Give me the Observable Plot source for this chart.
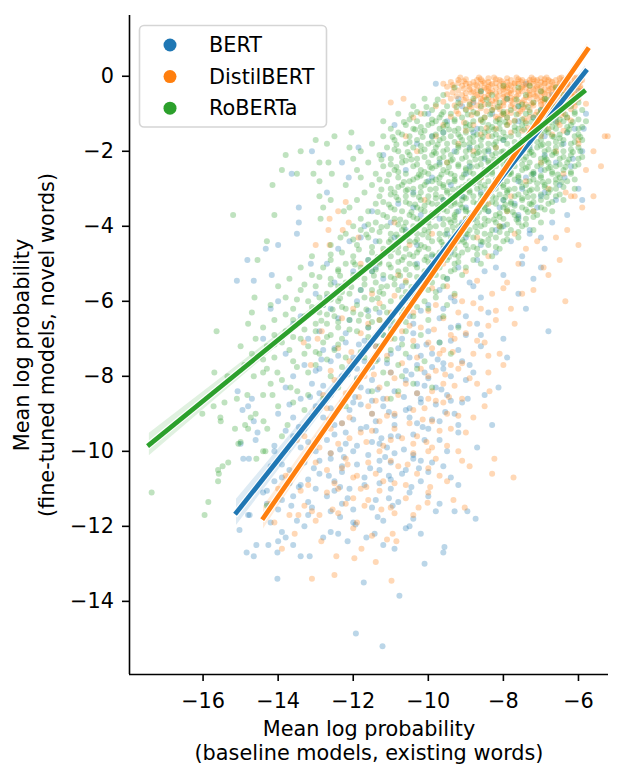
<!DOCTYPE html>
<html>
<head>
<meta charset="utf-8">
<script src="https://cdn.jsdelivr.net/npm/d3@7"></script>
<script src="https://cdn.jsdelivr.net/npm/@observablehq/plot@0.6"></script>
<style>
  html, body { margin: 0; padding: 0; background: #fff; }
  #chart { width: 624px; height: 780px; }
</style>
</head>
<body>
<div id="chart"></div>
<script>
// ---------- data ----------
const series = ["BERT", "DistilBERT", "RoBERTa"];
const colors = ["#1f77b4", "#ff7f0e", "#2ca02c"];
const xTicks = [-16, -14, -12, -10, -8, -6];
const yTicks = [-14, -12, -10, -8, -6, -4, -2, 0];
const xDomain = [-17.96, -5.2];
const yDomain = [-15.95, 1.62];
const xTitle = ["Mean log probability", "(baseline models, existing words)"];
const yTitle = ["Mean log probability", "(fine-tuned models, novel words)"];

// regression fits: [x, y] at both ends
const bertFit = [[-15.11, -11.63], [-5.81, 0.13]];
const distilFit = [[-14.39, -11.77], [-5.76, 0.71]];
const robertaFit = [[-17.43, -9.82], [-5.86, -0.41]];
// confidence bands: [x, low, high]
const bertBand = [[-15.11, -11.98, -11.28], [-10.46, -5.83, -5.67], [-5.81, -0.02, 0.28]];
const distilBand = [[-14.39, -12.07, -11.47], [-10.08, -5.60, -5.46], [-5.76, 0.56, 0.86]];
const robertaBand = [[-17.43, -10.12, -9.52], [-11.65, -5.18, -5.06], [-5.86, -0.51, -0.31]];

// scatter points: [y, [x values at that y]]
const bertRows = [
[-0.2,[-9.8,-7.4]],[-0.4,[-8.6,-6.0]],[-0.5,[-6.7]],[-0.6,[-7.9,-9.2]],[-0.8,[-9.1,-6.3,-7.6]],[-0.9,[-7.0]],
[-1.0,[-8.3,-5.8,-10.0]],[-1.2,[-9.5,-7.6,-6.6]],[-1.3,[-10.9]],[-1.4,[-6.1,-5.86,-8.7]],[-1.5,[-8.8,-7.2]],
[-1.6,[-6.9,-9.9]],[-1.7,[-8.0]],[-1.8,[-10.3,-6.4,-7.5]],[-1.9,[-7.3,-11.86]],[-2.0,[-13.1,-9.3,-5.9,-8.4]],
[-2.1,[-11.2,-6.9]],[-2.2,[-8.5,-6.15]],[-2.3,[-12.3,-7.8,-9.7]],[-2.4,[-6.2,-8.9]],[-2.5,[-10.6,-7.0]],
[-2.6,[-13.64,-9.0,-7.2]],[-2.7,[-12.12,-6.37,-8.1]],[-2.8,[-10.0,-7.6]],[-2.9,[-8.2,-6.5,-9.4]],[-3.0,[-7.5,-6.0]],
[-3.1,[-12.7,-10.4,-8.6]],[-3.2,[-9.1,-7.0]],[-3.3,[-9.6,-6.6,-5.9,-8.0]],[-3.4,[-10.8,-7.7]],[-3.5,[-13.45,-7.1,-9.0]],
[-3.6,[-9.2,-8.4,-11.5]],[-3.7,[-6.3,-7.6,-10.2]],[-3.8,[-7.6,-9.7,-8.8]],[-3.9,[-13.45,-6.7,-11.0]],[-4.0,[-11.7,-8.0]],
[-4.1,[-8.2,-10.6,-7.3]],[-4.2,[-13.5,-7.3,-9.5]],[-4.3,[-9.0,-10.9]],[-4.4,[-11.4,-7.8,-12.1]],[-4.5,[-14.0,-8.6,-10.3]],
[-4.6,[-14.33,-9.6,-6.9,-12.4]],[-4.7,[-11.1,-8.2]],[-4.8,[-7.5,-9.9]],[-4.9,[-14.82,-11.6,-8.7]],[-5.0,[-13.13,-10.3,-12.7,-7.5]],
[-5.1,[-9.2,-7.0]],[-5.2,[-12.0,-11.5,-8.5]],[-5.3,[-14.17,-8.0,-10.1]],[-5.4,[-7.2,-11.2,-9.5]],[-5.45,[-15.1,-14.65]],
[-5.5,[-12.5,-8.9]],[-5.6,[-12.3,-8.8,-10.7]],[-5.7,[-9.7,-11.8]],[-5.8,[-13.0,-10.4,-7.6]],[-5.9,[-10.6,-8.6]],
[-6.0,[-11.9,-9.3,-14.0]],[-6.1,[-12.8,-10.0]],[-6.2,[-12.6,-7.4,-9.6,-14.2]],[-6.3,[-8.4,-11.3]],[-6.4,[-13.4,-10.5,-9.0]],
[-6.5,[-12.1,-11.0]],[-6.6,[-13.6,-10.4,-8.7]],[-6.7,[-11.6,-9.4]],[-6.8,[-6.8,-12.9,-10.0]],[-6.9,[-11.2,-9.0,-8.6]],
[-7.0,[-8.0,-14.4,-10.7,-13.2]],[-7.1,[-12.2,-9.7]],[-7.2,[-8.6,-11.4,-10.3]],[-7.25,[-12.5,-10.8]],[-7.3,[-11.3,-12.8,-9.2]],
[-7.4,[-9.9,-13.8,-11.0]],[-7.5,[-7.9,-12.0,-10.5]],[-7.6,[-12.6,-9.1,-11.7]],[-7.7,[-10.3,-13.3,-8.9]],[-7.75,[-11.5,-9.9]],
[-7.8,[-11.9,-9.6,-12.9]],[-7.9,[-11.0,-8.8,-10.1]],[-8.0,[-9.4,-12.3,-13.6]],[-8.1,[-10.6,-11.5,-9.0]],[-8.2,[-12.4,-13.1,-10.3]],
[-8.25,[-12.8,-10.1]],[-8.3,[-8.13,-9.8,-13.8,-11.8]],[-8.4,[-15.08,-11.6,-10.9]],[-8.5,[-8.5,-12.6,-9.5]],
[-8.6,[-13.4,-10.2,-14.7,-11.2,-8.95]],[-8.7,[-10.2,-12.0,-9.1]],[-8.75,[-11.8,-9.8,-13.7]],[-8.8,[-11.2,-14.8,-13.0]],
[-8.9,[-14.95,-12.1,-10.6]],[-9.0,[-14.0,-9.3,-11.5]],[-9.1,[-10.5,-12.8,-13.6]],[-9.2,[-11.4,-14.65,-9.7]],[-9.25,[-12.3,-10.3]],
[-9.3,[-12.5,-8.3,-10.9,-9.2]],[-9.4,[-13.3,-10.0,-11.8]],[-9.5,[-14.55,-12.2,-9.2]],[-9.6,[-10.8,-11.0,-13.6]],
[-9.7,[-10.1,-14.6,-12.7,-9.7]],[-9.75,[-13.2,-11.5]],[-9.8,[-12.2,-15.0,-11.3]],[-9.9,[-11.1,-13.4,-8.7]],
[-10.0,[-12.0,-9.5,-13.0,-14.1]],[-10.1,[-11.6,-10.4]],[-10.2,[-14.93,-14.78,-12.6,-10.4]],[-10.25,[-12.9,-11.3,-10.2]],
[-10.3,[-13.3,-11.0,-9.9]],[-10.4,[-9.6,-12.3,-14.2]],[-10.5,[-11.3,-13.7,-10.6]],[-10.6,[-10.7,-12.9]],
[-10.7,[-13.9,-11.7,-9.4]],[-10.75,[-13.2,-11.0]],[-10.8,[-14.1,-12.5,-10.2]],[-10.9,[-11.7,-9.2,-13.4]],
[-11.0,[-11.0,-13.0,-12.1]],[-11.1,[-14.4,-10.5]],[-11.2,[-10.0,-12.7,-13.6]],[-11.3,[-13.9,-11.4]],[-11.4,[-14.3,-12.3,-9.7]],
[-11.5,[-11.5,-13.1]],[-11.6,[-12.6,-9.8,-8.96,-9.3]],[-11.7,[-14.8,-13.2,-14.76]],[-11.8,[-10.4,-8.74]],[-11.9,[-14.2,-12.0]],
[-11.95,[-11.94]],[-12.0,[-13.3,-10.5]],[-12.05,[-10.6]],[-12.1,[-15.03]],[-12.2,[-12.4,-11.43,-10.2]],[-12.3,[-13.8,-11.65,-12.8]],
[-12.4,[-14.0,-12.15]],[-12.5,[-14.58,-14.26,-13.6,-11.2]],[-12.55,[-9.57]],[-12.6,[-10.9]],[-12.7,[-14.84,-14.02,-9.6]],
[-12.8,[-14.65,-13.4,-13.16]],[-13.0,[-10.1]],[-13.4,[-14.02]],[-13.5,[-11.72]],[-13.85,[-10.77]],[-14.86,[-11.93]],[-15.2,[-11.22]]
];
const bertExtraRows = [
[-0.7,[-8.8]],[-1.1,[-7.2]],[-1.5,[-9.6,-6.3]],[-1.9,[-8.9]],[-2.3,[-6.6]],[-2.7,[-9.9,-7.4]],[-3.1,[-6.9]],[-3.5,[-8.1,-10.4]],
[-3.9,[-9.1]],[-4.3,[-7.0,-11.8]],[-4.7,[-9.4]],[-5.1,[-11.4,-8.2]],[-5.5,[-10.2]],[-5.9,[-12.7,-9.4]],[-6.25,[-11.6,-10.2]],
[-6.45,[-12.4,-9.7]],[-6.65,[-11.0,-9.2]],[-6.85,[-12.2,-10.4]],[-7.05,[-11.7,-9.4]],[-7.45,[-12.4,-10.2]],[-7.65,[-11.1,-9.6]],
[-7.85,[-13.0,-10.6]],[-8.05,[-11.9,-10.0]],[-8.45,[-12.9,-10.3]],[-8.65,[-11.5,-9.4]],[-8.85,[-12.6,-10.5]],[-9.05,[-13.1,-10.9]],
[-9.15,[-12.0,-9.9]],[-9.45,[-13.8,-11.4]],[-9.55,[-12.5,-10.4]],[-9.85,[-14.1,-11.9]],[-10.05,[-12.6,-10.9]],[-10.35,[-13.9,-11.9]],
[-10.55,[-12.3,-10.0]],[-10.85,[-13.7,-11.3]],[-11.05,[-14.3,-12.5]],[-11.35,[-13.2,-10.8]],[-11.55,[-14.0,-12.0]],
[-11.85,[-13.5,-11.2]],[-12.15,[-13.9,-12.6]],
[-7.15,[-11.85,-10.05]],[-7.55,[-12.85,-11.35,-9.75]],[-7.95,[-12.15,-10.45]],[-8.35,[-11.35,-9.65]],[-8.55,[-13.15,-11.95,-10.65]],
[-8.95,[-12.45,-11.05,-9.55]],[-9.35,[-13.45,-11.65,-10.15]],[-9.65,[-12.95,-11.25]],[-9.95,[-13.75,-12.35,-10.65]],
[-10.15,[-12.25,-11.15]],[-10.45,[-13.05,-11.55,-10.25]],[-10.65,[-12.65,-11.05]],[-10.95,[-13.45,-12.35,-10.45]],
[-11.25,[-12.15,-11.05]],[-11.45,[-13.65,-10.95]],[-11.75,[-12.35,-11.35]]
];

const distilRows = [
[-0.05,[-8.4,-7.9,-7.0,-6.5,-6.1]],
[-0.1,[-9.2,-8.7,-8.1,-7.8,-7.5,-7.3,-7.1,-6.8,-6.6,-6.4,-6.2,-5.9]],
[-0.15,[-9.4,-8.8,-8.4,-7.9,-7.4,-7.0,-6.7,-6.3,-6.0]],
[-0.2,[-9.6,-9.0,-8.9,-8.6,-8.3,-8.0,-7.7,-7.6,-7.2,-6.9,-6.5,-6.3,-6.0]],
[-0.25,[-9.1,-8.7,-8.1,-7.8,-7.3,-6.8,-6.4,-6.1]],
[-0.3,[-9.33,-8.5,-8.2,-7.9,-7.4,-7.0,-6.7,-6.3,-6.1]],
[-0.35,[-8.9,-8.6,-8.0,-7.7,-7.2,-6.9,-6.6,-6.2]],
[-0.4,[-8.8,-8.1,-7.6,-7.5,-7.0,-6.6,-6.5,-5.9,-8.4]],
[-0.45,[-9.0,-8.2,-7.8,-7.1,-6.7,-6.3]],
[-0.5,[-9.1,-8.4,-7.9,-7.3,-6.8,-6.2,-8.7]],
[-0.55,[-8.5,-8.0,-7.4,-7.0,-6.5,-6.1]],
[-0.6,[-10.66,-9.4,-8.6,-8.2,-7.7,-7.1,-6.0,-6.9]],
[-0.65,[-8.8,-8.3,-7.8,-6.8]],
[-0.7,[-11.0,-8.6,-7.5,-7.2,-6.9,-6.4,-8.0]],
[-0.73,[-5.8]],[-0.75,[-8.5,-7.4,-7.0,-6.3]],[-0.8,[-8.9,-8.1,-7.8,-6.7,-6.1,-9.8]],[-0.85,[-8.6,-7.7,-6.9]],
[-0.9,[-8.3,-7.3,-6.5]],[-0.95,[-7.9,-7.1]],[-1.0,[-9.2,-8.0,-7.6,-6.6,-10.2]],[-1.1,[-8.5,-7.9,-6.3,-10.4]],
[-1.2,[-7.4,-6.9]],[-1.3,[-8.8,-6.5]],[-1.4,[-8.2,-7.2,-6.8]],[-1.5,[-7.8]],[-1.6,[-9.8,-8.4,-7.0,-5.22,-10.6,-5.3]],
[-1.7,[-6.0]],[-1.8,[-9.2,-6.0]],[-1.9,[-8.2]],[-2.0,[-10.3,-8.8,-6.6,-5.6]],[-2.1,[-7.6]],[-2.3,[-9.5,-7.0]],
[-2.4,[-5.4]],[-2.5,[-5.8]],[-2.6,[-8.0,-6.4]],[-2.7,[-8.6]],[-2.8,[-7.4]],[-3.0,[-9.0,-6.8]],[-3.1,[-6.34]],
[-3.2,[-7.8,-6.2,-5.6,-6.1]],[-3.3,[-10.1]],[-3.35,[-12.2]],[-3.4,[-8.4]],[-3.5,[-5.9]],[-3.6,[-12.4,-7.2,-7.9]],
[-3.8,[-12.63,-9.0]],[-3.9,[-12.12,-10.9]],[-4.0,[-8.1]],[-4.1,[-12.66,-12.28,-6.3]],[-4.2,[-9.9,-7.7]],
[-4.3,[-11.86,-8.7,-6.6]],[-4.4,[-7.1]],[-4.5,[-13.0,-12.63,-9.3,-10.5,-6.0]],[-4.6,[-7.4]],[-4.7,[-11.2]],
[-4.8,[-8.4]],[-4.9,[-6.5]],[-5.0,[-11.8,-9.6,-7.6]],[-5.1,[-6.93]],[-5.2,[-9.0]],[-5.3,[-10.8,-6.8]],[-5.5,[-7.9]],
[-5.6,[-10.3,-9.5]],[-5.7,[-7.2]],[-5.8,[-11.5,-8.3,-7.5]],[-6.0,[-6.35,-9.1]],[-6.1,[-9.8]],[-6.2,[-8.6,-7.8,-12.0]],
[-6.3,[-11.0,-10.4,-9.2]],[-6.5,[-8.2,-11.3]],[-6.6,[-8.9,-7.7,-11.6]],[-6.7,[-10.2]],[-6.8,[-12.84,-10.7]],
[-6.9,[-9.4]],[-7.0,[-9.3,-12.95,-11.0]],[-7.1,[-8.5,-13.32,-10.0]],[-7.2,[-11.4]],[-7.3,[-9.6]],[-7.4,[-9.7,-8.8,-8.1]],
[-7.5,[-11.4,-10.3]],[-7.6,[-12.1]],[-7.7,[-13.13,-8.0,-9.4]],[-7.8,[-10.2,-9.2]],[-7.9,[-8.4,-11.0]],[-8.0,[-11.7,-10.0]],
[-8.1,[-12.5]],[-8.2,[-10.6,-9.6,-8.7]],[-8.3,[-12.0,-11.3]],[-8.4,[-8.37,-9.9]],[-8.5,[-10.8,-12.8]],
[-8.6,[-11.1,-10.0,-9.1]],[-8.7,[-12.3,-9.6]],[-8.8,[-8.5,-11.6]],[-8.9,[-10.4,-13.0]],[-9.0,[-11.5,-9.5,-10.9]],
[-9.1,[-8.8,-12.1]],[-9.2,[-9.9,-11.3]],[-9.4,[-10.9,-9.4,-12.6]],[-9.5,[-9.0,-11.8]],[-9.6,[-10.3,-13.3]],
[-9.7,[-13.5,-11.0]],[-9.8,[-10.4,-12.4]],[-9.9,[-12.9,-9.9]],[-10.0,[-11.3,-10.0,-9.2]],[-10.2,[-8.24,-9.8,-12.2]],
[-10.3,[-11.6,-13.0]],[-10.4,[-10.8,-8.9]],[-10.5,[-12.7]],[-10.6,[-8.3,-10.3,-11.4]],[-10.65,[-13.8]],
[-10.7,[-7.73,-12.0]],[-10.8,[-11.2,-9.5]],[-10.9,[-13.2,-10.6]],[-11.0,[-14.0,-12.4,-11.8]],[-11.1,[-12.7,-10.0]],
[-11.3,[-9.33,-11.6]],[-11.37,[-10.02]],[-11.4,[-14.2,-12.2]],[-11.5,[-10.26,-9.03,-11.0]],[-11.6,[-13.1]],
[-11.7,[-13.46,-13.7,-12.9,-10.4]],[-11.9,[-14.1,-11.9]],[-12.2,[-13.56,-10.95]],[-12.35,[-11.1]],[-12.4,[-12.85,-10.85]],
[-12.6,[-11.78,-13.9]],[-12.8,[-12.45]],[-12.85,[-11.97]],[-12.95,[-11.4]],[-13.3,[-12.5]],[-13.4,[-13.1]],[-13.45,[-10.98]]
];
const distilExtraRows = [
[-0.08,[-9.0,-8.6,-8.2,-7.6,-7.2,-6.9,-6.3,-6.0]],[-0.18,[-9.2,-8.5,-8.2,-7.7,-7.3,-6.9,-6.5,-6.1]],
[-0.28,[-9.5,-8.9,-8.4,-8.0,-7.5,-7.1,-6.6,-6.2,-5.95]],[-0.38,[-9.2,-8.7,-8.3,-7.8,-7.3,-6.8,-6.4,-6.0]],
[-0.48,[-9.5,-8.6,-8.0,-7.6,-7.2,-6.9,-6.4,-6.1]],[-0.58,[-9.0,-8.4,-7.8,-7.3,-6.7,-6.3]],
[-0.68,[-9.6,-8.9,-8.2,-7.6,-7.0,-6.6,-6.1]],[-0.78,[-9.3,-8.7,-8.0,-7.2,-6.8,-6.4]],[-0.88,[-9.0,-8.1,-7.5,-6.7,-6.2]],
[-0.98,[-8.7,-7.8,-7.0,-6.4]],[-1.08,[-9.4,-8.2,-7.3,-6.7]],[-1.18,[-8.6,-7.7,-6.2]],[-1.3,[-9.6,-7.9,-7.0]],
[-1.45,[-9.0,-7.5,-6.4]],[-1.55,[-8.6,-6.7]],
[-0.03,[-9.15,-8.65,-8.25,-7.65,-7.25,-6.85,-6.45,-6.05]],[-0.13,[-9.05,-8.55,-8.05,-7.55,-7.15,-6.75,-6.35,-5.95]],
[-0.23,[-9.35,-8.75,-8.35,-7.85,-7.45,-7.05,-6.65,-6.25]],[-0.33,[-9.05,-8.45,-7.95,-7.55,-7.15,-6.75,-6.35,-5.95]],
[-0.43,[-9.35,-8.85,-8.35,-7.85,-7.35,-6.95,-6.55,-6.15]],[-0.53,[-9.25,-8.75,-8.15,-7.65,-7.15,-6.65,-6.25]],
[-0.63,[-9.05,-8.55,-7.95,-7.45,-6.95,-6.45]],[-0.73,[-9.15,-8.35,-7.75,-7.25,-6.65,-6.15]],
[-0.83,[-8.85,-8.25,-7.45,-6.95,-6.35]],[-0.93,[-9.25,-8.45,-7.55,-6.75]],[-1.03,[-8.85,-8.05,-7.15,-6.45]],
[-1.13,[-8.15,-7.45,-6.85]],[-1.23,[-9.05,-7.85,-6.55]],[-1.38,[-8.45,-7.35]],
[-5.45,[-10.6,-8.7]],[-5.65,[-9.9,-8.0]],[-5.85,[-10.9,-9.3]],[-6.05,[-11.3,-8.8]],[-6.25,[-10.0,-8.2]],[-6.45,[-12.3,-9.6]],
[-6.65,[-10.5,-8.4]],[-6.85,[-11.8,-9.0]],[-7.05,[-10.4,-8.7]],[-7.25,[-12.4,-9.9]],[-7.45,[-11.1,-8.4]],[-7.65,[-10.7,-9.1]],
[-7.85,[-12.6,-9.8]],[-8.05,[-10.9,-8.9]],[-8.25,[-11.9,-9.3]],[-8.45,[-12.2,-10.3]],[-8.65,[-9.8,-11.4]],[-8.85,[-12.7,-10.1]],
[-9.05,[-11.1,-9.2]],[-9.25,[-12.3,-10.5]],[-9.45,[-11.5,-9.7]],[-9.65,[-12.1,-10.7]],[-9.85,[-11.2,-9.5]],[-10.05,[-12.6,-10.4]],
[-10.25,[-11.0,-9.1]],[-10.45,[-12.3,-10.0]],[-10.65,[-11.9,-9.7]],[-10.85,[-12.5,-10.9]],[-11.05,[-13.4,-11.3]],[-11.25,[-12.0,-10.6]],
[-11.45,[-13.3,-11.7]],[-11.65,[-12.4,-10.9]],[-11.85,[-13.0]],[-12.05,[-12.0]],[-12.25,[-11.5]],
[-6.75,[-11.25,-9.85]],[-7.35,[-12.05,-9.35]],[-7.95,[-11.45,-9.55]],[-8.55,[-11.85,-9.45]],[-9.15,[-12.65,-10.15]],
[-9.75,[-11.65,-10.05]],[-10.35,[-12.15,-10.55]],[-10.95,[-11.65,-9.95]],[-11.55,[-12.55,-11.25]]
];

const robertaRows = [
[-0.25,[-8.0,-7.3]],[-0.3,[-9.3,-7.6,-6.6]],[-0.4,[-8.6,-7.0]],[-0.5,[-9.6,-8.3,-7.4,-6.4]],
[-0.6,[-10.1,-8.8,-7.9,-6.9,-6.1]],[-0.7,[-9.2,-8.1,-7.2,-6.0]],[-0.8,[-10.4,-9.5,-8.6,-7.6,-6.7,-6.2]],
[-0.9,[-9.9,-9.0,-8.3,-7.8,-7.0,-6.5,-5.9]],[-1.0,[-10.8,-10.1,-9.4,-8.7,-8.0,-7.4,-6.8,-6.1]],
[-1.1,[-9.7,-9.1,-8.5,-7.9,-7.2,-6.6,-6.3]],[-1.2,[-11.2,-10.3,-9.8,-9.3,-8.8,-8.2,-7.7,-7.1,-6.4,-5.8]],
[-1.25,[-9.9,-9.0,-8.1,-7.4,-6.6]],[-1.3,[-10.6,-10.0,-9.5,-8.9,-8.4,-7.9,-7.5,-6.9,-6.2]],
[-1.4,[-11.0,-10.4,-9.7,-9.2,-8.6,-8.1,-7.6,-7.0,-6.6,-6.0]],[-1.45,[-10.1,-9.3,-8.4,-7.7,-6.9]],
[-1.5,[-12.05,-10.8,-10.2,-9.6,-9.0,-8.5,-8.0,-7.3,-6.8,-6.3]],[-1.6,[-12.5,-11.2,-10.5,-9.9,-9.4,-8.8,-8.3,-7.8,-7.2,-6.7,-6.1]],
[-1.65,[-9.6,-8.9,-8.1,-7.4,-6.5]],[-1.7,[-13.0,-10.9,-10.3,-9.7,-9.1,-8.6,-8.0,-7.5,-7.0,-6.4,-5.9]],
[-1.8,[-12.7,-11.5,-10.6,-10.0,-9.5,-8.9,-8.4,-7.9,-7.3,-6.8,-6.2]],[-1.85,[-10.2,-9.2,-8.6,-7.6,-7.0]],
[-1.9,[-12.1,-11.1,-10.4,-9.8,-9.2,-8.7,-8.2,-7.7,-7.1,-6.6,-6.0]],
[-2.0,[-13.4,-11.8,-10.8,-10.2,-9.6,-9.0,-8.5,-8.0,-7.5,-6.9,-6.4,-5.95]],[-2.05,[-9.8,-8.7,-8.2,-7.3,-6.6]],
[-2.1,[-13.8,-11.3,-10.5,-9.9,-9.4,-8.8,-8.3,-7.8,-7.2,-6.7,-6.2]],[-2.2,[-12.0,-11.0,-10.3,-9.7,-9.1,-8.6,-8.1,-7.6,-7.0,-6.5,-6.0]],
[-2.25,[-10.6,-9.4,-8.4,-7.9,-6.9]],[-2.3,[-12.9,-12.66,-11.6,-10.7,-10.0,-9.5,-8.9,-8.4,-7.9,-7.3,-6.8,-6.3]],
[-2.4,[-11.2,-10.4,-9.8,-9.2,-8.7,-8.2,-7.7,-7.1,-6.6,-6.1]],[-2.45,[-9.9,-9.0,-8.3,-7.4,-6.8]],
[-2.5,[-13.9,-11.9,-10.9,-10.2,-9.6,-9.0,-8.5,-8.0,-7.5,-6.9,-6.4]],
[-2.6,[-13.5,-13.06,-12.57,-11.4,-10.6,-10.0,-9.4,-8.8,-8.3,-7.8,-7.2,-6.7,-6.2]],[-2.65,[-10.2,-9.3,-8.6,-7.6,-7.0]],
[-2.7,[-11.8,-10.8,-10.3,-9.7,-9.1,-8.6,-8.1,-7.6,-7.0,-6.5]],[-2.8,[-12.9,-11.1,-10.5,-9.9,-9.3,-8.9,-8.4,-7.9,-7.3,-6.8,-6.3]],
[-2.85,[-9.7,-8.8,-8.1,-7.1,-6.6]],[-2.9,[-14.15,-12.2,-11.5,-10.7,-10.1,-9.6,-9.0,-8.5,-8.0,-7.4,-6.9]],
[-3.0,[-11.0,-10.4,-9.8,-9.2,-8.7,-8.2,-7.7,-7.1,-6.6,-6.1]],[-3.05,[-10.6,-9.5,-8.9,-7.9,-7.3]],
[-3.1,[-11.7,-10.9,-10.2,-9.5,-8.9,-8.4,-7.9,-7.4,-6.8]],[-3.2,[-12.9,-11.3,-10.6,-10.0,-9.4,-8.8,-8.3,-7.7,-7.2,-6.6]],
[-3.25,[-9.8,-9.0,-8.2,-7.5]],[-3.3,[-12.6,-11.9,-10.8,-10.2,-9.6,-9.1,-8.6,-8.0,-7.5,-7.0,-6.4]],
[-3.4,[-11.4,-10.5,-9.9,-9.3,-8.7,-8.2,-7.8,-7.3,-6.8]],[-3.45,[-10.1,-9.4,-8.6,-7.7]],
[-3.5,[-12.8,-12.1,-11.0,-10.3,-9.7,-9.1,-8.5,-8.0,-7.5,-7.0]],[-3.6,[-12.25,-11.6,-10.7,-10.1,-9.5,-9.0,-8.4,-7.9,-7.2,-6.7]],
[-3.65,[-9.9,-8.9,-8.1]],[-3.7,[-15.2,-14.1,-11.2,-10.5,-9.8,-9.3,-8.8,-8.2,-7.7,-7.1]],
[-3.8,[-12.87,-11.8,-10.9,-10.3,-9.6,-9.0,-8.5,-8.0,-7.4]],[-3.85,[-10.2,-9.3,-8.4]],
[-3.9,[-11.4,-10.6,-10.0,-9.4,-8.7,-8.2,-7.6,-7.0]],[-4.0,[-12.0,-11.1,-10.4,-9.8,-9.2,-8.6,-8.1,-7.5]],
[-4.1,[-11.8,-11.5,-10.7,-10.1,-9.5,-8.9,-8.3,-7.8,-7.2]],[-4.2,[-12.2,-11.0,-10.3,-9.7,-9.0,-8.5,-7.9]],
[-4.3,[-12.34,-11.6,-10.8,-10.0,-9.4,-8.8,-8.2,-7.6]],[-4.4,[-14.3,-11.3,-10.5,-9.9,-9.2,-8.6,-8.0]],
[-4.5,[-12.6,-11.9,-10.9,-10.2,-9.6,-9.0,-8.4]],[-4.6,[-11.2,-10.6,-10.0,-9.3,-8.7,-8.1]],
[-4.7,[-12.3,-11.5,-10.8,-10.3,-9.7,-9.1,-8.5]],[-4.8,[-13.1,-12.0,-11.0,-10.4,-9.8,-9.2,-8.3]],
[-4.9,[-14.55,-12.6,-11.6,-10.7,-10.1,-9.5,-8.8]],[-5.0,[-12.2,-11.3,-10.5,-9.9,-9.3,-8.6]],
[-5.1,[-13.4,-12.8,-11.8,-11.0,-10.3,-9.7,-9.0]],[-5.2,[-12.4,-11.5,-10.8,-10.1,-9.4]],
[-5.3,[-13.1,-12.0,-11.2,-10.5,-9.8,-9.1]],[-5.4,[-13.7,-12.6,-11.7,-10.9,-10.2,-9.5]],[-5.5,[-12.2,-11.4,-10.6,-9.9]],
[-5.6,[-14.0,-13.0,-12.4,-11.1,-10.3,-9.6]],[-5.7,[-13.4,-11.8,-11.5,-10.8,-10.0]],[-5.8,[-12.7,-12.1,-11.2,-10.4,-9.3]],
[-5.9,[-14.63,-13.8,-12.9,-11.7,-10.7,-9.8]],[-6.0,[-13.2,-12.4,-11.0,-10.1]],[-6.1,[-14.2,-12.8,-11.9,-10.5,-9.5]],
[-6.2,[-13.6,-12.2,-11.4,-10.8,-10.0]],[-6.3,[-14.7,-12.9,-12.0,-11.1]],[-6.4,[-13.3,-12.5,-11.6,-10.4,-9.6]],
[-6.5,[-14.1,-13.6,-12.1,-11.3,-10.0]],[-6.6,[-14.8,-13.0,-12.7,-10.8]],[-6.7,[-14.4,-12.4,-11.6,-9.2]],
[-6.8,[-15.64,-13.8,-13.0,-11.9,-10.6]],[-6.9,[-14.1,-12.6,-11.2,-10.2]],[-7.0,[-14.6,-13.4,-12.3,-10.9]],
[-7.1,[-13.9,-12.8,-11.5,-9.7]],[-7.2,[-15.0,-14.3,-13.2,-11.3,-10.4]],[-7.3,[-13.7,-12.5,-11.0]],
[-7.4,[-14.7,-13.3,-12.9,-10.6,-9.4]],[-7.5,[-14.1,-12.2,-11.7]],[-7.6,[-13.6,-11.4,-10.1]],[-7.7,[-14.9,-13.0,-12.0,-10.8]],
[-7.8,[-14.3,-11.6,-10.3]],[-7.9,[-15.7,-14.4,-14.02,-13.2,-11.2]],[-8.0,[-15.35,-14.65,-12.6,-10.7]],[-8.1,[-13.9,-11.9]],
[-8.2,[-14.2,-11.1,-10.4]],[-8.3,[-13.67,-12.4,-9.9]],[-8.4,[-13.49,-11.5,-10.8]],[-8.5,[-14.82,-14.4,-14.15,-13.2]],
[-8.6,[-15.1,-12.8,-11.0]],[-8.7,[-15.43,-13.6]],[-8.8,[-15.72,-14.0,-12.2]],[-8.9,[-13.3]],[-9.0,[-16.02,-14.6]],
[-9.1,[-15.54,-14.73]],[-9.2,[-15.53,-14.39]],[-9.3,[-13.75,-14.88]],[-9.4,[-15.15,-14.8,-14.29]],[-9.6,[-13.9]],
[-9.75,[-15.0]],[-9.8,[-15.06]],[-10.0,[-14.34,-14.4]],[-10.2,[-14.58]],[-10.3,[-15.33]],[-10.4,[-15.48]],
[-10.5,[-15.6]],[-10.6,[-15.58]],[-10.8,[-15.6]],[-11.1,[-17.37]],[-11.35,[-15.86]],[-11.45,[-14.3]],[-11.7,[-15.96]]
];
const robertaExtraRows = [
[-0.75,[-9.8,-8.9,-8.4,-7.5,-6.8,-6.3]],[-0.95,[-10.3,-9.6,-8.8,-8.0,-7.3,-6.6,-6.1]],
[-1.15,[-10.5,-9.9,-9.3,-8.6,-8.1,-7.5,-6.9,-6.5,-6.0]],[-1.35,[-10.2,-9.6,-9.0,-8.3,-7.7,-7.2,-6.7,-6.3,-5.9]],
[-1.55,[-10.7,-9.8,-9.2,-8.7,-8.2,-7.6,-7.0,-6.5,-6.0]],[-1.75,[-10.5,-9.9,-9.3,-8.8,-8.2,-7.7,-7.1,-6.6,-6.1]],
[-1.95,[-10.9,-10.1,-9.5,-8.9,-8.4,-7.8,-7.3,-6.8,-6.2]],[-2.15,[-10.7,-10.1,-9.6,-9.0,-8.5,-7.9,-7.4,-6.9,-6.4,-5.9]],
[-2.35,[-11.0,-10.3,-9.7,-9.2,-8.6,-8.0,-7.5,-7.0,-6.5,-6.0]],[-2.55,[-10.8,-10.1,-9.5,-8.9,-8.3,-7.8,-7.2,-6.7,-6.2]],
[-2.75,[-11.3,-10.4,-9.8,-9.3,-8.7,-8.2,-7.7,-7.2,-6.6,-6.1]],[-2.95,[-10.8,-10.2,-9.6,-9.1,-8.6,-8.0,-7.5,-6.9,-6.4]],
[-3.15,[-11.0,-10.4,-9.8,-9.2,-8.6,-8.1,-7.6,-7.0,-6.5]],[-3.35,[-11.2,-10.6,-10.0,-9.3,-8.8,-8.3,-7.8,-7.2,-6.7]],
[-3.55,[-10.9,-10.2,-9.6,-9.0,-8.5,-7.9,-7.4,-6.9]],[-3.75,[-11.1,-10.4,-9.9,-9.3,-8.7,-8.1,-7.6,-7.2]],
[-3.95,[-11.6,-10.8,-10.2,-9.6,-9.1,-8.5,-7.9,-7.4]],[-4.15,[-11.3,-10.6,-10.0,-9.3,-8.7,-8.1,-7.6]],
[-4.35,[-12.0,-11.0,-10.3,-9.7,-9.1,-8.4,-7.9]],[-4.55,[-11.5,-10.8,-10.1,-9.4,-8.8,-8.2]],
[-4.75,[-12.6,-11.2,-10.5,-9.9,-9.3,-8.7]],[-4.95,[-12.0,-11.3,-10.8,-10.0,-9.2]],[-5.15,[-12.4,-11.4,-10.6,-9.9,-9.3]],
[-5.35,[-12.9,-11.9,-11.0,-10.3,-9.6]],[-5.55,[-13.3,-12.6,-11.7,-10.9,-10.2]],[-5.75,[-12.3,-11.3,-10.6,-9.8]],
[-5.95,[-13.5,-12.6,-11.5,-10.4]],[-6.15,[-13.1,-12.3,-11.2,-10.3]],[-6.35,[-13.8,-12.7,-11.8,-10.7]],
[-6.55,[-12.4,-11.5,-10.6]],[-6.75,[-13.3,-12.1,-11.0]],[-6.95,[-13.6,-12.7,-11.6]],[-7.15,[-14.1,-12.4,-10.7]],
[-7.35,[-13.0,-11.8]],[-7.55,[-14.4,-12.7,-11.1]],[-7.75,[-13.5,-12.3]],
[-0.62,[-9.75,-8.45,-7.65,-6.85]],[-0.82,[-10.05,-9.25,-8.15,-7.35,-6.45]],
[-1.02,[-10.45,-9.65,-8.95,-8.35,-7.65,-7.05,-6.35]],[-1.22,[-10.65,-9.55,-8.55,-7.95,-7.25,-6.75,-6.15]],
[-1.42,[-10.35,-9.45,-8.85,-8.25,-7.45,-6.85,-6.25]],[-1.62,[-10.95,-10.15,-9.15,-8.55,-7.95,-7.35,-6.65,-5.95]],
[-1.82,[-10.85,-9.75,-9.05,-8.25,-7.55,-6.95,-6.45]],[-2.02,[-10.55,-9.85,-9.25,-8.65,-8.05,-7.25,-6.65,-6.15]],
[-2.22,[-11.25,-10.45,-9.35,-8.75,-8.25,-7.45,-6.85,-6.25]],[-2.42,[-10.85,-9.95,-9.45,-8.85,-7.95,-7.35,-6.75,-6.35]],
[-2.62,[-11.05,-10.25,-9.65,-9.05,-8.45,-7.85,-7.25,-6.55]],[-2.82,[-10.65,-10.05,-9.45,-8.65,-8.15,-7.55,-6.95,-6.45]],
[-3.02,[-11.25,-10.55,-9.95,-9.35,-8.45,-7.85,-7.25,-6.75]],[-3.22,[-10.85,-10.25,-9.65,-9.05,-8.55,-7.95,-7.35,-6.85]],
[-3.42,[-11.05,-10.35,-9.75,-9.15,-8.45,-7.95,-7.25]],[-3.62,[-11.35,-10.45,-9.75,-9.25,-8.65,-7.75,-7.35]],
[-3.82,[-10.75,-10.05,-9.45,-8.85,-8.25,-7.65]],[-4.02,[-11.25,-10.65,-9.95,-9.35,-8.75,-8.05]],
[-4.22,[-11.65,-10.85,-10.15,-9.55,-8.95,-8.35]],[-4.42,[-11.05,-10.35,-9.65,-9.05,-8.55]],
[-4.62,[-11.85,-10.95,-10.25,-9.55,-8.95]],[-4.82,[-11.35,-10.65,-10.05,-9.45]],[-5.02,[-11.95,-11.05,-10.35,-9.75]],
[-5.32,[-12.35,-11.45,-10.75,-10.05]],[-5.62,[-12.05,-11.25,-10.45]],[-5.92,[-12.35,-11.35,-10.55]],
[-6.22,[-12.55,-11.65,-10.65]],[-6.52,[-12.85,-11.85,-10.95]]
];

// ---------- build ----------
const toPoints = rows => rows.flatMap(([y, xs]) => xs.map(x => ({x, y})));
const scatter = [
  toPoints(bertRows).concat(toPoints(bertExtraRows)),
  toPoints(distilRows).concat(toPoints(distilExtraRows)),
  toPoints(robertaRows).concat(toPoints(robertaExtraRows))
];
const bands = [bertBand, distilBand, robertaBand];
const fits = [bertFit, distilFit, robertaFit];
const fmt = d => (d < 0 ? "\u2212" + Math.abs(d) : String(d));
const FONT = "DejaVu Sans, sans-serif";
const FS = 20.8;

function legendMark() {
  const g = d3.create("svg:g");
  g.append("rect")
    .attr("x", 139.5).attr("y", 25.5).attr("width", 187).attr("height", 101.5)
    .attr("rx", 4.5).attr("fill", "white").attr("fill-opacity", 0.8)
    .attr("stroke", "#d5d5d5").attr("stroke-width", 1.6);
  series.forEach((name, i) => {
    const cy = 45 + i * 31.6;
    g.append("circle").attr("cx", 170).attr("cy", cy).attr("r", 6.5).attr("fill", colors[i]);
    g.append("text").attr("x", 209).attr("y", cy + 7.2)
      .attr("text-anchor", "start")
      .attr("font-family", FONT).attr("font-size", FS).attr("fill", "black").text(name);
  });
  return g.node();
}

const marks = [];
scatter.forEach((pts, i) => {
  marks.push(Plot.dot(pts, {x: "x", y: "y", r: 3, fill: colors[i], fillOpacity: 0.3, stroke: "none"}));
  marks.push(Plot.areaY(bands[i], {x: d => d[0], y1: d => d[1], y2: d => d[2], fill: colors[i], fillOpacity: 0.15}));
});
fits.forEach((f, i) => {
  marks.push(Plot.line(f, {x: d => d[0], y: d => d[1], stroke: "white", strokeWidth: 7, strokeLinecap: "square"}));
  marks.push(Plot.line(f, {x: d => d[0], y: d => d[1], stroke: colors[i], strokeWidth: 4.7, strokeLinecap: "square"}));
});
marks.push(
  Plot.ruleX([xDomain[0]], {stroke: "black", strokeWidth: 1.6}),
  Plot.ruleY([yDomain[0]], {stroke: "black", strokeWidth: 1.6}),
  Plot.axisX({ticks: xTicks, tickFormat: fmt, tickSize: 7, tickPadding: 12, strokeWidth: 1.6, label: null, fontSize: FS, fill: "black"}),
  Plot.axisY({ticks: yTicks, tickFormat: fmt, tickSize: 7, tickPadding: 8.5, strokeWidth: 1.6, label: null, fontSize: FS, fill: "black"}),
  Plot.text([xTitle[0]], {frameAnchor: "bottom", dy: 61, lineAnchor: "bottom", textAnchor: "middle", fontSize: FS, fill: "black"}),
  Plot.text([xTitle[1]], {frameAnchor: "bottom", dy: 85, lineAnchor: "bottom", textAnchor: "middle", fontSize: FS, fill: "black"}),
  Plot.text([yTitle[0]], {frameAnchor: "left", dx: -101, rotate: -90, lineAnchor: "bottom", textAnchor: "middle", fontSize: FS, fill: "black"}),
  Plot.text([yTitle[1]], {frameAnchor: "left", dx: -76, rotate: -90, lineAnchor: "bottom", textAnchor: "middle", fontSize: FS, fill: "black"}),
  legendMark
);

const chart = Plot.plot({
  width: 624,
  height: 780,
  marginLeft: 129,
  marginRight: 16,
  marginTop: 15,
  marginBottom: 106,
  style: {fontFamily: FONT, fontSize: FS + "px", background: "white", overflow: "visible"},
  x: {domain: xDomain, axis: null},
  y: {domain: yDomain, axis: null},
  marks
});
document.getElementById("chart").appendChild(chart);
</script>
</body>
</html>
